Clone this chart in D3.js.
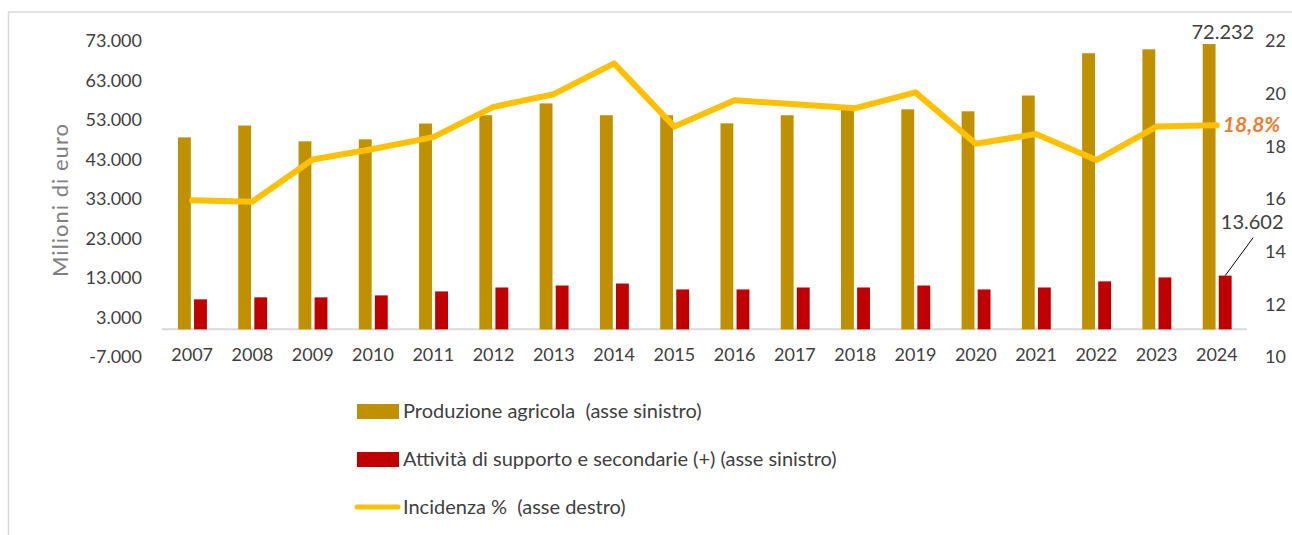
<!DOCTYPE html>
<html>
<head>
<meta charset="utf-8">
<script src="https://cdn.jsdelivr.net/npm/d3@7"></script>
<style>
  body { margin: 0; background: #fff; }
  text { font-family: Lato, "Liberation Sans", sans-serif; white-space: pre; }
</style>
</head>
<body>
<script>
// data
var years = ['2007','2008','2009','2010','2011','2012','2013','2014','2015','2016','2017','2018','2019','2020','2021','2022','2023','2024'];
var produzione = [48600, 51600, 47600, 48100, 52100, 54200, 57200, 54200, 54200, 52150, 54200, 55900, 55700, 55200, 59200, 69900, 70900, 72232];
var attivita = [7600, 8100, 8100, 8600, 9600, 10600, 11100, 11600, 10100, 10100, 10600, 10600, 11100, 10100, 10600, 12150, 13150, 13602];
var incidenza = [15.95, 15.9, 17.5, 17.9, 18.35, 19.5, 19.98, 21.15, 18.75, 19.75, 19.6, 19.45, 20.05, 18.1, 18.47, 17.48, 18.75, 18.8];
var leftTicks = [-7000, 3000, 13000, 23000, 33000, 43000, 53000, 63000, 73000];
var rightTicks = [10, 12, 14, 16, 18, 20, 22];
var seriesNames = ['Produzione agricola  (asse sinistro)', 'Attività di supporto e secondarie (+) (asse sinistro)', 'Incidenza %  (asse destro)'];

var W = 1292, H = 535;
var gold = '#BF9000', red = '#C00000', yellow = '#FFC000', txt = '#404040';

var it = d3.formatLocale({decimal: ',', thousands: '.', grouping: [3], currency: ['€', ''], minus: '-'});
var fmt = it.format(',');

var svg = d3.select('body').append('svg').attr('width', W).attr('height', H);

// chart border
svg.append('rect')
  .attr('x', 8.5).attr('y', 12)
  .attr('width', W).attr('height', H)
  .attr('fill', 'none').attr('stroke', '#d9d9d9').attr('stroke-width', 1.5);

var x = d3.scaleBand().domain(years).range([162, 1247]);
var x1 = d3.scaleBand().domain(['p', 'a'])
  .range([x.bandwidth() * 0.265, x.bandwidth() * 0.745]).paddingInner(0.2);
var yL = d3.scaleLinear().domain([-7000, 73000]).range([357, 41]);
var yR = d3.scaleLinear().domain([10, 22]).range([357, 41]);

// left axis
var gl = svg.append('g').attr('transform', 'translate(162,0)')
  .call(d3.axisLeft(yL).tickValues(leftTicks).tickFormat(fmt).tickSize(0).tickPadding(20));
gl.select('.domain').remove();
gl.selectAll('text').attr('font-size', 18).attr('fill', txt).attr('font-family', 'Lato');

// right axis
var gr = svg.append('g').attr('transform', 'translate(1247,0)')
  .call(d3.axisRight(yR).tickValues(rightTicks).tickSize(0).tickPadding(18));
gr.select('.domain').remove();
gr.selectAll('text').attr('font-size', 18).attr('fill', txt).attr('font-family', 'Lato');

// bottom axis
var gb = svg.append('g').attr('transform', 'translate(0,' + yL(0) + ')')
  .call(d3.axisBottom(x).tickSize(0).tickPadding(19));
gb.select('.domain').remove();
gb.selectAll('text').attr('font-size', 18).attr('fill', txt).attr('font-family', 'Lato');

svg.append('line')
  .attr('x1', 162).attr('x2', 1247)
  .attr('y1', yL(0)).attr('y2', yL(0))
  .attr('stroke', '#d9d9d9').attr('stroke-width', 2);

// y title
svg.append('text')
  .attr('transform', 'translate(68,200) rotate(-90)')
  .attr('text-anchor', 'middle')
  .attr('font-size', 22)
  .attr('letter-spacing', 1)
  .attr('fill', '#808080')
  .text('Milioni di euro');

// bars
svg.selectAll('rect.prod').data(produzione)
  .enter().append('rect').attr('class', 'prod')
  .attr('x', function(d, i) { return x(years[i]) + x1('p'); })
  .attr('width', x1.bandwidth())
  .attr('y', function(d) { return yL(d); })
  .attr('height', function(d) { return yL(0) - yL(d); })
  .attr('fill', gold);

svg.selectAll('rect.att').data(attivita)
  .enter().append('rect').attr('class', 'att')
  .attr('x', function(d, i) { return x(years[i]) + x1('a'); })
  .attr('width', x1.bandwidth())
  .attr('y', function(d) { return yL(d); })
  .attr('height', function(d) { return yL(0) - yL(d); })
  .attr('fill', red);

// line
var line = d3.line()
  .x(function(d, i) { return x(years[i]) + x.bandwidth() / 2; })
  .y(function(d) { return yR(d); });
svg.append('path').datum(incidenza)
  .attr('d', line)
  .attr('fill', 'none')
  .attr('stroke', yellow)
  .attr('stroke-width', 6)
  .attr('stroke-linejoin', 'round')
  .attr('stroke-linecap', 'round');

// data labels for last year
var last = years.length - 1;
var cx = x(years[last]) + x.bandwidth() / 2;
svg.append('text')
  .attr('x', cx + 6).attr('y', yL(produzione[last]) - 5)
  .attr('text-anchor', 'middle').attr('font-size', 20).attr('fill', txt)
  .text(fmt(produzione[last]));

var redCx = x(years[last]) + x1('a') + x1.bandwidth() / 2;
svg.append('line')
  .attr('x1', redCx).attr('y1', yL(attivita[last]))
  .attr('x2', redCx + 28).attr('y2', yL(attivita[last]) - 38)
  .attr('stroke', '#000').attr('stroke-width', 1);
svg.append('text')
  .attr('x', redCx + 27).attr('y', yL(attivita[last]) - 47)
  .attr('text-anchor', 'middle').attr('font-size', 20).attr('fill', txt)
  .text(fmt(attivita[last]));

svg.append('text')
  .attr('x', cx + 6).attr('y', yR(incidenza[last]) + 7)
  .attr('font-size', 21).attr('font-weight', 'bold').attr('font-style', 'italic')
  .attr('fill', '#ED7D31')
  .text(d3.format('.1f')(incidenza[last]).replace('.', ',') + '%');

// legend
var legY = [411, 459, 507];
var leg = svg.append('g');
leg.append('rect').attr('x', 357).attr('y', legY[0] - 7).attr('width', 42).attr('height', 15).attr('fill', gold);
leg.append('rect').attr('x', 357).attr('y', legY[1] - 7).attr('width', 42).attr('height', 15).attr('fill', red);
leg.append('line').attr('x1', 357).attr('x2', 398).attr('y1', legY[2]).attr('y2', legY[2])
  .attr('stroke', yellow).attr('stroke-width', 5).attr('stroke-linecap', 'round');
leg.selectAll('text').data(seriesNames)
  .enter().append('text')
  .attr('x', 403)
  .attr('y', function(d, i) { return legY[i]; })
  .attr('dy', '0.35em')
  .attr('font-size', 20)
  .attr('fill', txt)
  .text(function(d) { return d; });
</script>
</body>
</html>
